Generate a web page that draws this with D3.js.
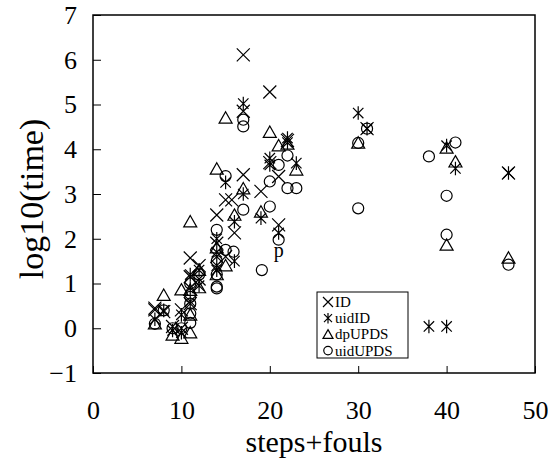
<!DOCTYPE html>
<html>
<head>
<meta charset="utf-8">
<script src="https://cdn.jsdelivr.net/npm/d3@7"></script>
<style>
  body { margin: 0; background: #fff; }
  text { font-family: "Liberation Serif", "Times New Roman", serif; fill: #000; }
</style>
</head>
<body>
<div id="chart"></div>
<script>
// series: [steps+fouls, log10(time)]
var idPts = [[7,0.45],[7,0.41],[8,0.37],[9,0.04],[10,0.41],[10,0.0],[11,1.57],[11,1.15],[11,0.55],[12,1.4],[12,1.1],
  [14,2.53],[14,1.9],[14,1.6],[15,2.87],[15.7,2.87],[15,1.6],[16,2.13],[17,6.11],[17,4.85],[17,3.43],[19,3.06],
  [20,5.28],[20,3.7],[21,3.39],[21,2.31],[22,4.2],[31,4.46],[47,3.47]];
var uidIdPts = [[7,0.2],[8,0.4],[9,-0.05],[10,-0.1],[10,0.3],[11,0.6],[11,0.9],[11,1.2],[12,1.3],[12,0.95],
  [14,2.0],[14,1.7],[14,1.4],[14,1.3],[15,3.26],[16,2.38],[16,1.5],[17,5.02],[17,3.0],[19,2.46],[20,3.8],[20,3.65],
  [21,2.13],[22,4.25],[22,4.15],[23,3.69],[30,4.81],[31,4.46],[38,0.04],[40,0.04],[40,4.08],[41,3.57],[47,3.47]];
var dpUpdsPts = [[7,0.1],[8,0.74],[9,-0.15],[10,0.86],[10,-0.22],[11,2.38],[11,-0.1],[11,0.3],[11,0.85],[12,0.91],[12,1.3],
  [14,3.56],[14,1.8],[14,1.2],[15,4.7],[15,1.4],[16,2.53],[17,3.12],[19,2.6],[20,4.38],[21,4.08],[22,4.12],[23,3.54],
  [30,4.14],[40,4.03],[40,1.86],[41,3.72],[47,1.57]];
var uidUpdsPts = [[7,0.1],[8,0.4],[9,0.0],[10,0.0],[11,1.0],[11,0.7],[11,0.55],[11,0.33],[11,0.12],[12,1.2],[14,0.89],
  [14,2.2],[14,1.5],[14,1.2],[14,0.93],[15,3.4],[15,1.75],[15.9,1.71],[17,4.66],[17,4.51],[17,2.65],[19.1,1.3],
  [20,3.28],[20,2.72],[21,3.65],[21,1.98],[22,3.86],[22,3.13],[23,3.13],[30,4.14],[30,2.68],[31,4.46],[38,3.84],
  [40,2.96],[40,2.09],[41,4.15],[47,1.42]];
var seriesNames = ["ID", "uidID", "dpUPDS", "uidUPDS"];
var xTicks = [0, 10, 20, 30, 40, 50];
var yTicks = [-1, 0, 1, 2, 3, 4, 5, 6, 7];

var W = 548, H = 459;
var margin = {top: 15, right: 13, bottom: 86, left: 93};
var serif = "'Liberation Serif', 'Times New Roman', serif";

var svg = d3.select("#chart").append("svg")
  .attr("width", W).attr("height", H);

var x = d3.scaleLinear().domain([0, 50]).range([margin.left, W - margin.right]);
var y = d3.scaleLinear().domain([-1, 7]).range([H - margin.bottom, margin.top]);

// draw a marker of given kind at 0,0
function marker(g, kind, s) {
  var p = d3.path();
  if (kind === "ID") {
    p.moveTo(-s, -s); p.lineTo(s, s); p.moveTo(-s, s); p.lineTo(s, -s);
  } else if (kind === "uidID") {
    var a = s * 0.8;
    p.moveTo(-a, -a); p.lineTo(a, a); p.moveTo(-a, a); p.lineTo(a, -a);
    p.moveTo(0, -s * 1.05); p.lineTo(0, s * 1.05);
  } else if (kind === "dpUPDS") {
    p.moveTo(0, -s * 0.95); p.lineTo(s * 1.0, s * 0.8); p.lineTo(-s * 1.0, s * 0.8); p.closePath();
  } else {
    p.arc(0, 0, s * 0.85, 0, 2 * Math.PI);
  }
  g.append("path").attr("d", p.toString())
    .attr("fill", "none").attr("stroke", "#000").attr("stroke-width", 1.2);
}

var allSeries = [idPts, uidIdPts, dpUpdsPts, uidUpdsPts];
allSeries.forEach(function (pts, i) {
  var kind = seriesNames[i];
  svg.append("g").selectAll("g").data(pts).join("g")
    .attr("transform", function (d) { return "translate(" + x(d[0]) + "," + y(d[1]) + ")"; })
    .each(function () { marker(d3.select(this), kind, 6.5); });
});

// axes with inward ticks
var xAxis = svg.append("g")
  .attr("transform", "translate(0," + y(-1) + ")")
  .call(d3.axisBottom(x).tickValues(xTicks).tickSizeInner(-7).tickSizeOuter(0).tickPadding(28));
var yAxis = svg.append("g")
  .attr("transform", "translate(" + x(0) + ",0)")
  .call(d3.axisLeft(y).tickValues(yTicks).tickSizeInner(-8).tickSizeOuter(0).tickPadding(16));
[xAxis, yAxis].forEach(function (a) {
  a.select(".domain").remove();
  a.selectAll("line").attr("stroke", "#000").attr("stroke-width", 1);
  a.selectAll("text").style("font-family", serif)
    .style("font-size", "26px").attr("fill", "#000");
});

// frame
svg.append("rect")
  .attr("x", x(0)).attr("y", y(7))
  .attr("width", x(50) - x(0)).attr("height", y(-1) - y(7))
  .attr("fill", "none").attr("stroke", "#000").attr("stroke-width", 1.5);

// stray label
svg.append("text").attr("x", x(21)).attr("y", y(1.6))
  .attr("text-anchor", "middle").style("font-size", "20px").text("p");

// axis titles
svg.append("text")
  .attr("x", (x(0) + x(50)) / 2).attr("y", 452)
  .attr("text-anchor", "middle").style("font-size", "30px").text("steps+fouls");
svg.append("text")
  .attr("transform", "translate(43,199) rotate(-90)")
  .attr("text-anchor", "middle").style("font-size", "34px").text("log10(time)");

// legend
var lg = svg.append("g").attr("transform", "translate(317,292)");
lg.append("rect").attr("width", 91).attr("height", 66)
  .attr("fill", "#fff").attr("stroke", "#000").attr("stroke-width", 1);
seriesNames.forEach(function (name, i) {
  var row = lg.append("g").attr("transform", "translate(11," + (10 + i * 16.2) + ")");
  marker(row, name, 5);
  row.append("text").attr("x", 7).attr("y", 5).style("font-size", "15px").text(name);
});
</script>
</body>
</html>
